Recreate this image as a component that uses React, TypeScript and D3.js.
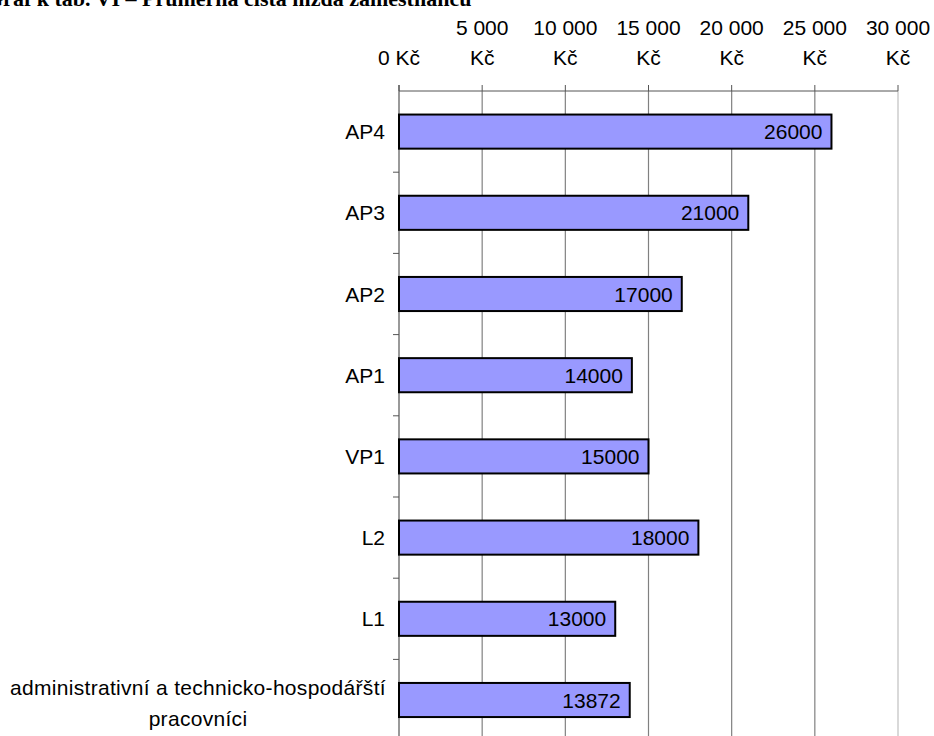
import React from "react";
import * as d3 from "d3";

const categories = ["AP4", "AP3", "AP2", "AP1", "VP1", "L2", "L1", "administrativní a technicko-hospodářští pracovníci"];
const values = [26000, 21000, 17000, 14000, 15000, 18000, 13000, 13872];
const xTicks = [0, 5000, 10000, 15000, 20000, 25000, 30000];
const title = "Graf k tab. VI – Průměrná čistá mzda zaměstnanců";

const W = 934, H = 736;
const left = 399, right = 898, top = 91;
const band = 81.2;

export default function App() {
  const x = d3.scaleLinear().domain([0, 30000]).range([left, right]);
  const y = d3.scaleBand().domain(categories).range([top, top + band * categories.length]).paddingInner(0.58).paddingOuter(0.29);
  const fmt = (v: number) => d3.format(",")(v).replace(/,/g, " ");
  const font = "'Liberation Sans', Arial, sans-serif";
  const fs = 21;
  return (
    <svg width={W} height={H} style={{ position: "absolute", left: 0, top: 0, background: "#fff" }} fontFamily={font}>
      <text x={-14} y={6} fontFamily="'Liberation Serif', 'Times New Roman', serif" fontWeight="bold" fontSize={22} fill="#000">{title}</text>
      {xTicks.map((t) => (
        <g key={t}>
          {t > 0 && (
            <line x1={x(t)} x2={x(t)} y1={top} y2={H} stroke={t === 30000 ? "#c0c0c0" : "#808080"} strokeWidth={1.2} />
          )}
          <line x1={x(t)} x2={x(t)} y1={top - 6} y2={top} stroke="#555" strokeWidth={1} />
          {t === 0 ? (
            <text x={x(t)} y={65} textAnchor="middle" fontSize={fs} fill="#000">0 Kč</text>
          ) : (
            <>
              <text x={x(t)} y={35} textAnchor="middle" fontSize={fs} fill="#000">{fmt(t)}</text>
              <text x={x(t)} y={65} textAnchor="middle" fontSize={fs} fill="#000">Kč</text>
            </>
          )}
        </g>
      ))}
      <line x1={left} x2={right} y1={top} y2={top} stroke="#555" strokeWidth={1} />
      <line x1={left} x2={left} y1={top - 6} y2={H} stroke="#555" strokeWidth={1.2} />
      {categories.map((c, i) => i > 0 ? (
        <line key={"t" + i} x1={left - 6} x2={left} y1={top + band * i} y2={top + band * i} stroke="#555" strokeWidth={1} />
      ) : null)}
      {categories.map((c, i) => {
        const yy = y(c)!;
        const bw = y.bandwidth();
        const cy = yy + bw / 2;
        return (
          <g key={c}>
            <rect x={x(0)} y={yy} width={x(values[i]) - x(0)} height={bw} fill="#9999ff" stroke="#000" strokeWidth={2} />
            <text x={x(values[i]) - 9} y={cy + 7.5} textAnchor="end" fontSize={fs} fill="#000">{values[i]}</text>
            {c.length > 20 ? (
              <text textAnchor="middle" fontSize={fs} fill="#000" letterSpacing={0.3}>
                <tspan x={198} y={cy - 5}>administrativní a technicko-hospodářští</tspan>
                <tspan x={198} y={cy + 26}>pracovníci</tspan>
              </text>
            ) : (
              <text x={385} y={cy + 7.5} textAnchor="end" fontSize={fs} fill="#000">{c}</text>
            )}
          </g>
        );
      })}
    </svg>
  );
}
